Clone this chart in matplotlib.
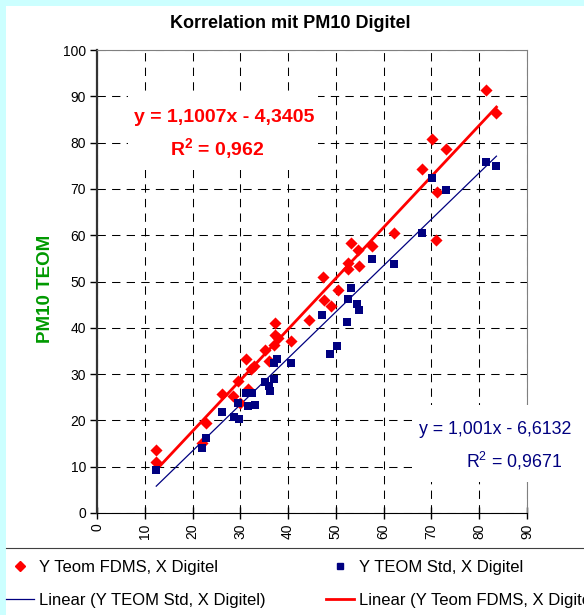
import numpy as np
import matplotlib
matplotlib.use('Agg')
import matplotlib.pyplot as plt
from matplotlib.lines import Line2D
from matplotlib.patches import Rectangle

plt.rcParams['font.family'] = ['Liberation Sans', 'DejaVu Sans']
plt.rcParams['mathtext.fontset'] = 'custom'
plt.rcParams['mathtext.rm'] = 'Liberation Sans'
plt.rcParams['mathtext.bf'] = 'Liberation Sans:bold'

# Y Teom FDMS against X Digitel
fdms_x = [12.4, 12.4, 22.0, 22.9, 26.2, 28.4, 29.5, 30.0, 31.6, 31.1, 32.8, 32.2,
          35.1, 35.9, 37.0, 37.2, 37.9, 37.3, 40.5, 44.4, 47.3, 47.5, 48.9, 50.4,
          52.5, 52.5, 53.2, 54.6, 54.8, 57.6, 62.1, 68.1, 70.1, 70.9, 71.2, 73.0,
          81.5, 83.6]
fdms_y = [13.6, 11.1, 15.2, 19.5, 25.6, 25.3, 28.5, 23.8, 26.7, 33.2, 31.7, 31.0,
          35.2, 32.9, 36.3, 38.4, 37.9, 41.0, 37.2, 41.6, 51.0, 45.9, 44.7, 48.2,
          52.6, 54.1, 58.4, 56.7, 53.4, 57.7, 60.4, 74.4, 80.7, 59.0, 69.4, 78.6,
          91.4, 86.5]

# Y TEOM Std against X Digitel
std_x = [12.4, 22.0, 22.9, 26.1, 28.6, 29.8, 29.5, 31.1, 32.5, 31.6, 33.0, 35.1,
         36.0, 36.3, 37.0, 37.7, 37.0, 40.5, 47.1, 48.8, 50.3, 52.4, 52.5, 53.2,
         54.5, 54.8, 57.6, 62.1, 68.0, 70.2, 73.0, 81.5, 83.6]
std_y = [9.3, 14.1, 16.3, 21.9, 20.8, 20.4, 23.7, 25.9, 25.9, 23.1, 23.3, 28.4,
         27.4, 26.3, 28.9, 33.2, 32.3, 32.3, 42.8, 34.3, 36.1, 41.3, 46.2, 48.7,
         45.1, 43.8, 54.9, 53.8, 60.5, 72.3, 69.8, 75.9, 74.9]

# linear trendlines as given by the chart
fdms_fit = [1.1007, -4.3405]
std_fit = [1.001, -6.6132]

x_ticks = [0, 10, 20, 30, 40, 50, 60, 70, 80, 90]
y_ticks = [0, 10, 20, 30, 40, 50, 60, 70, 80, 90, 100]

W, H = 584, 615
fig = plt.figure(figsize=(W / 100, H / 100), dpi=100, facecolor='#CCFFFF')


def fx(px):
    return px / W


def fy(py):
    return 1 - py / H


# white chart area
fig.patches.append(Rectangle((fx(6), 0), 1, fy(6), transform=fig.transFigure,
                             facecolor='white', edgecolor='none', zorder=-10))

ax = fig.add_axes([fx(97), fy(513), fx(527) - fx(97), fy(50) - fy(513)])
ax.set_facecolor('white')

ax.scatter(fdms_x, fdms_y, marker='D', s=38, color='#FF0000', linewidths=0, zorder=3)
ax.scatter(std_x, std_y, marker='s', s=30, color='#000080', linewidths=0, zorder=3)

xr = np.array([min(std_x), max(std_x)])
ax.plot(xr, np.polyval(std_fit, xr), color='#000080', lw=0.9, zorder=2)
xr = np.array([min(fdms_x), max(fdms_x)])
ax.plot(xr, np.polyval(fdms_fit, xr), color='#FF0000', lw=2.0, zorder=2)

ax.set_xlim(0, 90)
ax.set_ylim(0, 100)
ax.set_xticks(x_ticks)
ax.set_yticks(y_ticks)
ax.set_xticklabels([str(t) for t in x_ticks], rotation=90, fontsize=10)
ax.set_yticklabels([str(t) for t in y_ticks], fontsize=10)
ax.tick_params(axis='x', direction='inout', length=9, width=1, pad=3)
ax.tick_params(axis='y', direction='out', length=5, width=1, pad=3)
ax.grid(True, color='black', lw=0.75, ls=(0, (8, 6)))
ax.set_axisbelow(True)

ax.spines['left'].set_linewidth(1.6)
ax.spines['left'].set_color('#333333')
ax.spines['bottom'].set_color('black')
ax.spines['top'].set_color('#808080')
ax.spines['right'].set_color('#808080')

fig.text(fx(290), fy(23), 'Korrelation mit PM10 Digitel', ha='center', va='center',
         fontsize=13, fontweight='bold')
fig.text(fx(45), fy(289), 'PM10 TEOM', rotation=90, ha='center', va='center',
         fontsize=13.5, fontweight='bold', color='#009900')

# trendline equation boxes
fig.patches.append(Rectangle((fx(128), fy(170)), fx(318) - fx(128), fy(95) - fy(170),
                             transform=fig.transFigure, facecolor='white',
                             edgecolor='none', zorder=1))
fig.text(fx(224), fy(118), 'y = 1,1007x - 4,3405', ha='center', va='center',
         fontsize=14, fontweight='bold', color='#FF0000', zorder=2)
fig.text(fx(217), fy(149), r'R$^{\mathbf{2}}$ = 0,962', ha='center', va='center',
         fontsize=14, fontweight='bold', color='#FF0000', zorder=2)

fig.patches.append(Rectangle((fx(412), fy(482)), 1, fy(405) - fy(482),
                             transform=fig.transFigure, facecolor='white',
                             edgecolor='none', zorder=1))
fig.text(fx(495), fy(430), 'y = 1,001x - 6,6132', ha='center', va='center',
         fontsize=12.8, color='#000080', zorder=2)
fig.text(fx(514), fy(461), r'R$^{2}$ = 0,9671', ha='center', va='center',
         fontsize=12.8, color='#000080', zorder=2)

# legend area
fig.add_artist(Line2D([fx(6), 1], [fy(548), fy(548)], color='#404040', lw=0.8))

h_fdms = Line2D([], [], marker='D', ls='none', color='#FF0000', markersize=5)
h_std = Line2D([], [], marker='s', ls='none', color='#000080', markersize=4.5)
h_std_lin = Line2D([], [], color='#000080', lw=0.9)
h_fdms_lin = Line2D([], [], color='#FF0000', lw=2.0)

leg_kw = dict(frameon=False, fontsize=12, handlelength=1.7, handletextpad=0.3,
              labelspacing=1.1, borderpad=0, borderaxespad=0, loc='upper left')
fig.legend([h_fdms, h_std_lin], ['Y Teom FDMS, X Digitel', 'Linear (Y TEOM Std, X Digitel)'],
           bbox_to_anchor=(fx(6), fy(560)), **leg_kw)
fig.legend([h_std, h_fdms_lin], ['Y TEOM Std, X Digitel', 'Linear (Y Teom FDMS, X Digitel)'],
           bbox_to_anchor=(fx(326), fy(560)), **leg_kw)

fig.savefig('out.png', dpi=100, facecolor=fig.get_facecolor())
